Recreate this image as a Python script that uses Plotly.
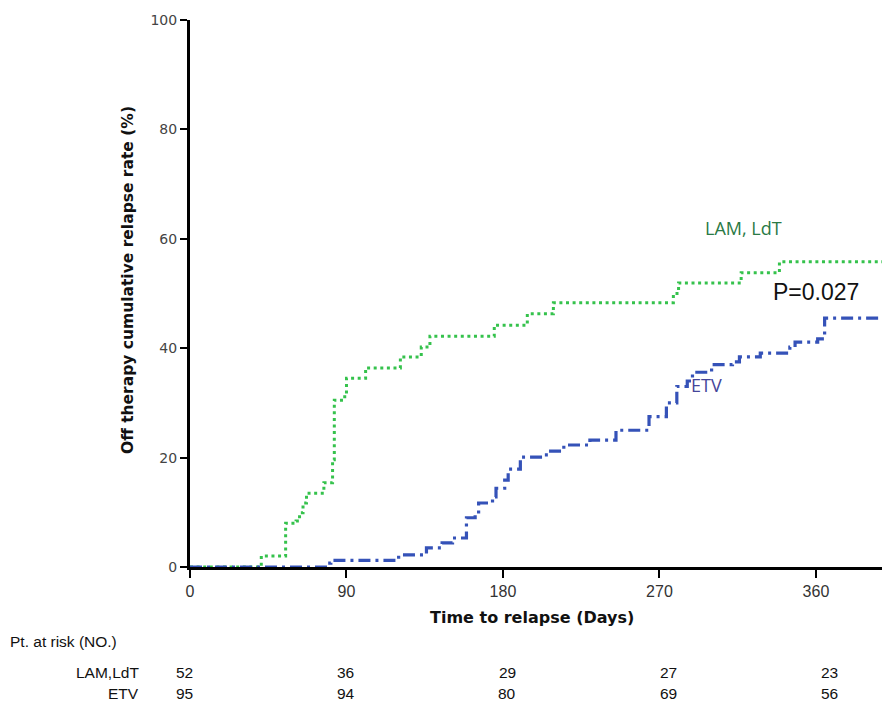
import plotly.graph_objects as go

# ---- data ----
lam_days = [0, 41, 55, 61, 63, 65, 67, 77, 82, 83, 89, 90, 101, 121, 133, 138,
            175, 194, 209, 278, 281, 317, 339, 398]
lam_pct = [0, 2.0, 8.0, 8.4, 9.9, 11.7, 13.5, 15.4, 19.6, 30.5, 31.4, 34.5, 36.4,
           38.4, 40.2, 42.2, 44.2, 46.3, 48.3, 50.0, 51.9, 53.8, 55.8, 55.8]

etv_days = [0, 79, 81, 120, 136, 145, 151, 159, 164, 166, 174, 176, 181, 183,
            190, 203, 206, 215, 230, 245, 264, 274, 280, 286, 289, 300, 312,
            316, 328, 345, 348, 361, 365, 398]
etv_pct = [0, 0.7, 1.2, 2.2, 3.5, 4.4, 5.3, 9.0, 9.7, 11.7, 12.8, 14.4, 15.9,
           17.9, 20.1, 20.5, 21.2, 22.3, 23.2, 25.0, 27.5, 30.0, 33.0, 34.0,
           35.6, 37.0, 37.5, 38.4, 39.1, 40.2, 41.1, 41.7, 45.5, 45.5]

x_ticks = [0, 90, 180, 270, 360]
y_ticks = [0, 20, 40, 60, 80, 100]

risk_days = [0, 90, 180, 270, 360]
risk_lam = [52, 36, 29, 27, 23]
risk_etv = [95, 94, 80, 69, 56]
risk_rows = ["LAM,LdT", "ETV"]

# ---- layout helpers ----
L, R, T, B = 190, 2, 20, 137
W, H = 884, 704
PW, PH = W - L - R, H - T - B
XMAX = 398


def px(xpix):
    return (xpix - L) / PW


def py(ypix):
    return (T + PH - ypix) / PH


fig = go.Figure()
fig.add_trace(go.Scatter(x=lam_days, y=lam_pct, mode="lines", line_shape="hv",
                         line=dict(color="#35c24c", width=3, dash="3px,3.6px"),
                         showlegend=False, hoverinfo="skip"))
fig.add_trace(go.Scatter(x=etv_days, y=etv_pct, mode="lines", line_shape="hv",
                         line=dict(color="#3552b8", width=3.2, dash="12px,5px,3px,5px"),
                         showlegend=False, hoverinfo="skip"))

narrow = "Liberation Sans Narrow, Arial Narrow, Liberation Sans, sans-serif"


def note(text, xpix, ypix, font, xanchor="center", **kw):
    return dict(text=text, x=px(xpix), y=py(ypix), xref="paper", yref="paper",
                xanchor=xanchor, yanchor="middle", showarrow=False, font=font, **kw)


ann = []
ann.append(note("LAM, LdT", 743, 228, dict(family="Open Sans, Liberation Sans", size=18, color="#2a7a45")))
ann.append(note("P=0.027", 816, 292, dict(family="Liberation Sans, Arial", size=23, color="#111111")))
ann.append(note("ETV", 706, 385, dict(family="Open Sans, Liberation Sans", size=18, color="#45459a")))
ann.append(note("<b>Time to relapse (Days)</b>", 532, 617,
                dict(family="DejaVu Sans", size=16, color="#111111")))
ann.append(note("<b>Off therapy cumulative relapse rate (%)</b>", 128, 280,
                dict(family="DejaVu Sans", size=15.5, color="#111111"), textangle=-90))
ann.append(note("Fig. 1", -2, -12, dict(family="Liberation Sans", size=17, color="#222222"), xanchor="left"))
ann.append(note("Pt. at risk (NO.)", 8, 641, dict(family=narrow, size=15.5, color="#111111"), xanchor="left"))
for i, lab in enumerate(risk_rows):
    ann.append(note(lab, 141, 672 + 21 * i, dict(family=narrow, size=15.5, color="#111111"), xanchor="right"))
for row, vals in enumerate([risk_lam, risk_etv]):
    for d, v in zip(risk_days, vals):
        ann.append(dict(text=str(v), x=(d * 1.03 - 3) / XMAX, y=py(672 + 21 * row),
                        xref="paper", yref="paper", xanchor="center", yanchor="middle",
                        showarrow=False, font=dict(family=narrow, size=15.5, color="#111111")))

fig.update_layout(
    width=W, height=H,
    margin=dict(l=L, r=R, t=T, b=B, pad=0, autoexpand=False),
    paper_bgcolor="white", plot_bgcolor="white",
    annotations=ann,
    xaxis=dict(range=[0, XMAX], tickvals=x_ticks, ticktext=[str(t) for t in x_ticks],
               showgrid=False, zeroline=False, showline=True, linecolor="black", linewidth=3,
               ticks="outside", ticklen=8, tickwidth=1.5, tickcolor="black", automargin=False,
               tickfont=dict(family=narrow, size=16, color="#333333")),
    yaxis=dict(range=[0, 100], tickvals=y_ticks, ticktext=[str(t) for t in y_ticks],
               showgrid=False, zeroline=False, showline=True, linecolor="black", linewidth=3,
               ticks="outside", ticklen=7, tickwidth=1.5, tickcolor="black", automargin=False,
               tickfont=dict(family="DejaVu Sans", size=14, color="#444444")),
)

fig.write_html("out.html", config={"displayModeBar": False},
               post_script="document.body.style.margin='0px';document.body.style.overflow='hidden';")
